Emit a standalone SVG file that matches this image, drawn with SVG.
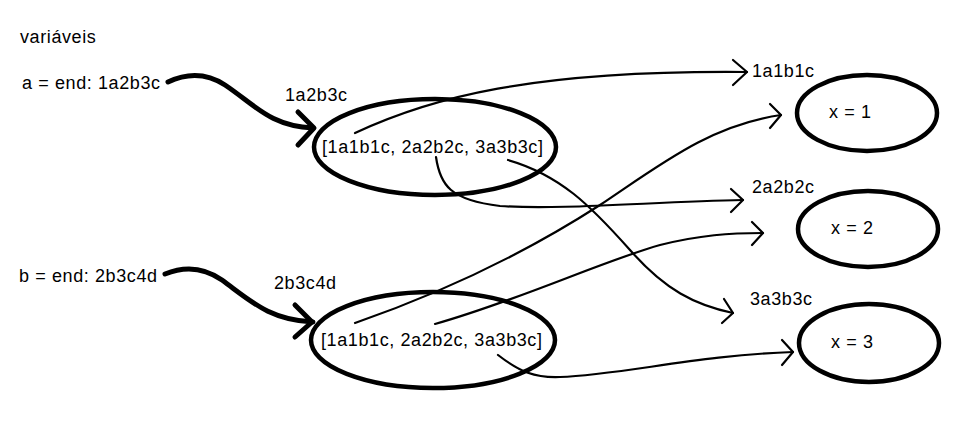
<svg xmlns="http://www.w3.org/2000/svg" width="968" height="447" viewBox="0 0 968 447">
  <style>
    text { font-family: "Liberation Sans", Arial, sans-serif; font-size: 18px; letter-spacing: 0.6px; fill: #000; }
    .node { fill: none; stroke: #000; stroke-width: 4.5; }
    .thick { fill: none; stroke: #000; stroke-width: 5; stroke-linecap: round; stroke-linejoin: round; }
    .thin { fill: none; stroke: #000; stroke-width: 2.2; stroke-linecap: round; stroke-linejoin: round; }
  </style>
  <rect width="968" height="447" fill="#fff"/>

  <g id="labels">
    <text x="20" y="43">variáveis</text>
    <text x="22" y="89">a = end: 1a2b3c</text>
    <text x="19" y="282">b = end: 2b3c4d</text>
    <text x="285" y="101">1a2b3c</text>
    <text x="274" y="289">2b3c4d</text>
    <text x="752" y="77">1a1b1c</text>
    <text x="752" y="193">2a2b2c</text>
    <text x="750" y="305">3a3b3c</text>
  </g>

  <g id="list-a">
    <ellipse class="node" cx="435" cy="147" rx="121" ry="48"/>
    <text x="322" y="153">[1a1b1c, 2a2b2c, 3a3b3c]</text>
  </g>
  <g id="list-b">
    <ellipse class="node" cx="433" cy="340" rx="122" ry="48"/>
    <text x="321" y="346">[1a1b1c, 2a2b2c, 3a3b3c]</text>
  </g>
  <g id="x1">
    <ellipse class="node" cx="867" cy="113" rx="70" ry="38"/>
    <text x="829" y="118">x = 1</text>
  </g>
  <g id="x2">
    <ellipse class="node" cx="868" cy="229" rx="70" ry="38"/>
    <text x="831" y="234">x = 2</text>
  </g>
  <g id="x3">
    <ellipse class="node" cx="869" cy="343" rx="70" ry="39"/>
    <text x="831" y="348">x = 3</text>
  </g>

  <g id="connectors">
    <!-- variable references -->
    <path class="thick" d="M168,82 C185,74 205,72 225,85 C255,105 270,126 313,128"/>
    <path class="thick" d="M298,112 L314,128 L298,145"/>
    <path class="thick" d="M165,274 C182,267 202,266 222,280 C252,302 270,320 313,322"/>
    <path class="thick" d="M295,305 L312,322 L295,337"/>

    <!-- list a -->
    <path class="thin" d="M355,133 C430,98 530,70 747,72"/>
    <path class="thin" d="M733,60 L747,72 L733,85"/>
    <path class="thin" d="M436,157 C440,185 450,200 500,206 C560,210 650,202 743,200"/>
    <path class="thin" d="M731,189 L743,200 L731,212"/>
    <path class="thin" d="M508,160 C560,175 590,205 630,250 C665,290 695,305 733,313"/>
    <path class="thin" d="M724,299 L733,313 L722,323"/>

    <!-- list b -->
    <path class="thin" d="M355,323 C450,290 530,250 600,205 C660,165 710,125 781,115"/>
    <path class="thin" d="M770,104 L781,115 L770,128"/>
    <path class="thin" d="M435,324 C520,300 600,262 660,245 C700,235 730,233 763,233"/>
    <path class="thin" d="M752,222 L763,233 L752,245"/>
    <path class="thin" d="M498,355 C520,372 535,378 560,377 C620,375 700,355 793,352"/>
    <path class="thin" d="M782,340 L793,352 L782,365"/>
  </g>
</svg>
